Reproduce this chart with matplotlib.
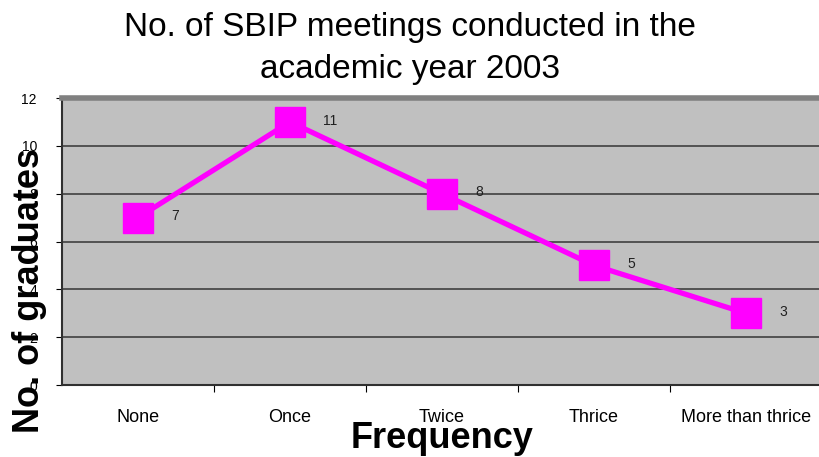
import matplotlib.pyplot as plt

plt.rcParams['font.family'] = ['Liberation Sans', 'DejaVu Sans']

categories = ['None', 'Once', 'Twice', 'Thrice', 'More than thrice']
graduates = [7, 11, 8, 5, 3]
yticks = [0, 2, 4, 6, 8, 10, 12]

fig = plt.figure(figsize=(8.19, 4.57), dpi=100)
ax = fig.add_axes([0.0757, 0.1575, 0.928, 0.628])
ax.set_facecolor('#c0c0c0')

x = list(range(len(categories)))
ax.plot(x, graduates, color='#ff00ff', lw=3.8, marker='s', ms=21,
        mfc='#ff00ff', mec='#ff00ff', zorder=3)
for xi, v in zip(x, graduates):
    ax.annotate(str(v), (xi, v), xytext=(24, 1), textcoords='offset points',
                fontsize=10, va='center', ha='left', color='#202020')

ax.set_xlim(-0.5, 4.5)
ax.set_ylim(0, 12)
ax.set_yticks(yticks)
ax.set_yticklabels([str(t) for t in yticks], fontsize=10)
ax.yaxis.grid(True, color='#404040', lw=1.2)
ax.set_axisbelow(True)

# category boundaries get the tick marks, names sit in between
ax.set_xticks([i + 0.5 for i in range(len(categories) - 1)], minor=False)
ax.set_xticklabels([''] * (len(categories) - 1))
ax.set_xticks(x, minor=True)
ax.set_xticklabels(categories, minor=True, fontsize=13)
ax.tick_params(axis='x', which='minor', length=0, pad=17)
ax.tick_params(axis='x', which='major', length=5, direction='out')
ax.tick_params(axis='y', length=4, direction='out', pad=14)

ax.spines['top'].set_color('#808080')
ax.spines['top'].set_linewidth(4)
ax.spines['right'].set_visible(False)
ax.spines['left'].set_color('#303030')
ax.spines['left'].set_linewidth(1.5)
ax.spines['bottom'].set_color('#303030')
ax.spines['bottom'].set_linewidth(1.5)

ax.set_ylabel('No. of graduates', fontsize=26, fontweight='bold')
ax.yaxis.set_label_coords(-0.02, 0.33)
ax.set_xlabel('Frequency', fontsize=26, fontweight='bold', labelpad=-3)

fig.text(0.5, 0.94, 'No. of SBIP meetings conducted in the', ha='center',
         va='center', fontsize=24)
fig.text(0.5, 0.847, 'academic year 2003', ha='center', va='center', fontsize=24)

fig.savefig('out.png', dpi=100)
